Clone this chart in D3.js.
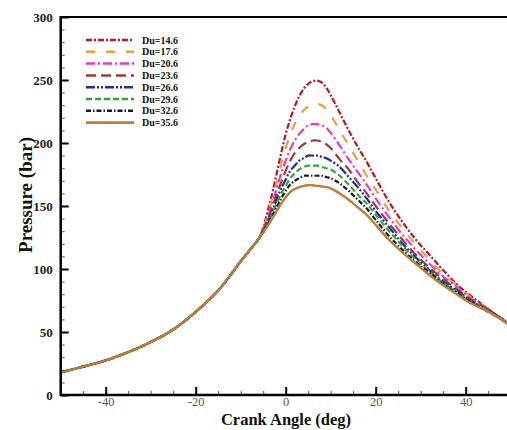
<!DOCTYPE html>
<html><head><meta charset="utf-8">
<script src="https://cdn.jsdelivr.net/npm/d3@7"></script>
<style>html,body{margin:0;padding:0;background:#fff;overflow:hidden}</style>
</head><body>
<svg id="c" width="507" height="430"></svg>
<script>
// ---- data ----
const compX = [-50,-45,-40,-35,-30,-25,-20,-15,-10,-8];
const compP = [18,22.5,27.5,34,42,52,66,83,106,115];
const combX = [-6,-5,-4,-3,-2,-1,0,1,2,3,4,5,6,7,8,9,10,12,14,16,18,20,23,26,29,32,35,38,41,44,47,50];
const du146 = [124,133,146,160,176,192,207,219,229,237,243,247,249,249.5,248,244,238,224,210,197,185,172,153,137,123,111,99,88,79,71,63,56];
const du176 = [124,132,143,156,169,183,196,206,215,221,226,229,231,231,230,227,222,210,198,186,174,163,146,132,119,107,96,87,78,71,63,56];
const du206 = [124,131,141,152,164,176,186,195,202,207,211,214,215,215,214,212,208,198,187,177,167,156,141,127,115,104,94,86,77,70,63,56];
const du236 = [124,131,139,149,159,169,178,186,192,196,199,201,202,202,201,199,196,187,179,169,160,150,136,123,111,101,92,84,76,70,63,55];
const du266 = [124,130,137,146,155,164,171,178,182,186,188,190,190,190,189,188,186,181,173,165,156,146,133,120,109,99,90,83,75,69,63,55];
const du296 = [124,130,136,144,152,160,166,172,176,179,181,182,182,182,181,180,179,174,167,159,152,143,130,118,107,98,89,82,74,69,62,55];
const du326 = [124,129,135,142,149,156,162,167,170,172,174,174,174,174,174,173,172,168,162,155,148,139,126,115,105,97,88,81,74,68,62,55];
const du356 = [124,129,134,140,146,152,157,161,163.5,165,166,166.5,166.5,166,165.5,165,164,160,155,149,143,135,123,113,104,95,87,80,73,68,62,55];
const seriesNames = ["Du=14.6","Du=17.6","Du=20.6","Du=23.6","Du=26.6","Du=29.6","Du=32.6","Du=35.6"];
const seriesVals = [du146,du176,du206,du236,du266,du296,du326,du356];
const seriesColors = ["#b5182b","#eaa040","#e23fc6","#a8343c","#1f2c9c","#2fa73a","#1a1a1a","#b9803c"];
const seriesDash = ["6,2,2,2","9,11","9,3,2,3","10,5","9,2,2,2,2,2","6,3","5,2,1.5,2","none"];
const seriesWidth = [2.2,2.2,2.2,2.2,2.2,2.2,2.2,2.4];
const xMajor = [-40,-20,0,20,40];
const xMinor = [-45,-35,-30,-25,-15,-10,-5,5,10,15,25,30,35,45];
const yMajor = [0,50,100,150,200,250,300];
const yMinor = [10,20,30,40,60,70,80,90,110,120,130,140,160,170,180,190,210,220,230,240,260,270,280,290];

const svg = d3.select("#c");
const x = d3.scaleLinear().domain([-50,50]).range([60.7,510.7]);
const y = d3.scaleLinear().domain([0,300]).range([395,17]);
const serif = "'Liberation Serif','DejaVu Serif',serif";

// curves
const line = d3.line().x(d=>x(d[0])).y(d=>y(d[1])).curve(d3.curveCatmullRom);
svg.append("clipPath").attr("id","pc").append("rect")
  .attr("x",60.7).attr("y",10).attr("width",450).attr("height",386);
const g = svg.append("g").attr("clip-path","url(#pc)");
seriesVals.forEach((vals,i)=>{
  const pts = compX.map((xx,j)=>[xx,compP[j]]).concat(combX.map((xx,j)=>[xx,vals[j]]));
  g.append("path").datum(pts).attr("d",line).attr("fill","none")
    .attr("stroke",seriesColors[i]).attr("stroke-width",seriesWidth[i])
    .attr("stroke-dasharray",seriesDash[i]);
});

// axes
const gx = svg.append("g").attr("transform","translate(0,395)");
gx.call(d3.axisBottom(x).tickValues(xMajor).tickSizeInner(-8).tickSizeOuter(0).tickPadding(2).tickFormat(d=>String(d)));
gx.select(".domain").remove();
gx.selectAll(".tick line").attr("stroke","#000").attr("stroke-width",2);
gx.selectAll("text").attr("font-family",serif).attr("font-size",12.5).attr("fill","#555");
const gxm = svg.append("g").attr("transform","translate(0,395)");
gxm.call(d3.axisBottom(x).tickValues(xMinor).tickSizeInner(-4).tickSizeOuter(0).tickFormat(""));
gxm.select(".domain").remove();
gxm.selectAll(".tick line").attr("stroke","#555").attr("stroke-width",1);

const gy = svg.append("g").attr("transform","translate(60.7,0)");
gy.call(d3.axisLeft(y).tickValues(yMajor).tickSizeInner(-8).tickSizeOuter(0).tickPadding(8));
gy.select(".domain").remove();
gy.selectAll(".tick line").attr("stroke","#000").attr("stroke-width",2);
gy.selectAll("text").attr("font-family",serif).attr("font-size",13).attr("font-weight","bold").attr("fill","#222");
const gym = svg.append("g").attr("transform","translate(60.7,0)");
gym.call(d3.axisLeft(y).tickValues(yMinor).tickSizeInner(-4).tickSizeOuter(0).tickFormat(""));
gym.select(".domain").remove();
gym.selectAll(".tick line").attr("stroke","#555").attr("stroke-width",1);

// frame
svg.append("line").attr("x1",60.7).attr("x2",507).attr("y1",395).attr("y2",395).attr("stroke","#000").attr("stroke-width",2.5);
svg.append("line").attr("x1",60.7).attr("x2",60.7).attr("y1",16).attr("y2",396).attr("stroke","#000").attr("stroke-width",2.5);
svg.append("line").attr("x1",60.7).attr("x2",507).attr("y1",17).attr("y2",17).attr("stroke","#000").attr("stroke-width",2);

// axis titles
svg.append("text").attr("x",286).attr("y",425).attr("text-anchor","middle")
  .attr("font-family",serif).attr("font-weight","bold").attr("font-size",16.5).attr("fill","#111").text("Crank Angle (deg)");
svg.append("text").attr("transform","translate(32,195) rotate(-90)").attr("text-anchor","middle")
  .attr("font-family",serif).attr("font-weight","bold").attr("font-size",19).attr("fill","#111").text("Pressure (bar)");

// legend
const lg = svg.append("g");
seriesNames.forEach((n,i)=>{
  const yy = 40 + i*11.8;
  lg.append("line").attr("x1",86).attr("x2",134).attr("y1",yy).attr("y2",yy)
    .attr("stroke",seriesColors[i]).attr("stroke-width",seriesWidth[i]+0.3).attr("stroke-dasharray",seriesDash[i]);
  lg.append("text").attr("x",142).attr("y",yy+3.5).attr("font-family",serif).attr("font-weight","bold")
    .attr("font-size",10).attr("fill","#111").text(n);
});
</script>
</body></html>
